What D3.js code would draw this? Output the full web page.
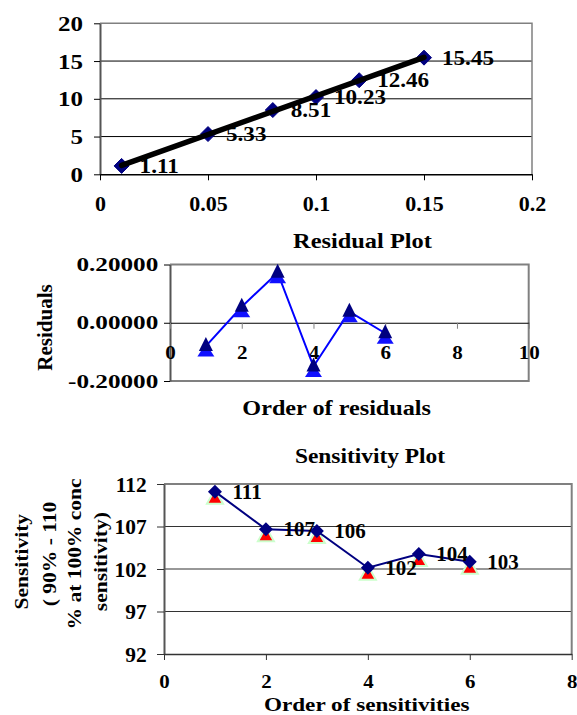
<!DOCTYPE html>
<html><head><meta charset="utf-8">
<script src="https://cdn.jsdelivr.net/npm/d3@7"></script>
<style>
body{margin:0;background:#fff}
text{font-family:"Liberation Serif","Times New Roman",serif;font-weight:bold;fill:#000}
</style>
</head><body>
<svg id="c" width="577" height="715"></svg>
<script>
// ---------- DATA ----------
const calX = [0.01, 0.05, 0.08, 0.10, 0.12, 0.15];
const calY = [1.11, 5.33, 8.51, 10.23, 12.46, 15.45];
const calLabels = ["1.11", "5.33", "8.51", "10.23", "12.46", "15.45"];
const trendX = [0.01, 0.15];
const trendY = [1.19, 15.49];
const calXTicks = [0, 0.05, 0.1, 0.15, 0.2];
const calXTickLabels = ["0", "0.05", "0.1", "0.15", "0.2"];
const calYTicks = [0, 5, 10, 15, 20];

const resOrder = [1, 2, 3, 4, 5, 6];
const residuals = [-0.080, 0.055, 0.172, -0.150, 0.038, -0.036];
const resXTicks = [0, 2, 4, 6, 8, 10];
const resYTicks = [-0.2, 0, 0.2];
const resYTickLabels = ["-0.20000", "0.00000", "0.20000"];

const sensOrder = [1, 2, 3, 4, 5, 6];
const sensitivity = [111.1, 106.67, 106.47, 102.15, 103.76, 102.86];
const sensLabels = ["111", "107", "106", "102", "104", "103"];
const sensXTicks = [0, 2, 4, 6, 8];
const sensYTicks = [92, 97, 102, 107, 112];
const sensYTitle = ["Sensitivity", "( 90% - 110", "% at 100% conc", "sensitivity)"];

// ---------- HELPERS ----------
const svg = d3.select("#c");
function stretch(sel, sx) {
  sel.each(function () {
    const L = this.getComputedTextLength();
    this.setAttribute("textLength", L * sx);
    this.setAttribute("lengthAdjust", "spacingAndGlyphs");
  });
}
const diamond = r => `M0,${-r}L${r},0L0,${r}L${-r},0Z`;
const tri = (w, h) => `M0,${-h / 2}L${w / 2},${h / 2}L${-w / 2},${h / 2}Z`;
const GRAY = "#808080";

// ---------- CHART 1: calibration ----------
(function () {
  const x = d3.scaleLinear().domain([0, 0.2]).range([100, 532]);
  const y = d3.scaleLinear().domain([0, 20]).range([174.3, 23.3]);
  const g = svg.append("g");
  g.selectAll("line.grid").data(calYTicks.filter(d => d > 0 && d < 20)).join("line")
    .attr("x1", x(0)).attr("x2", x(0.2)).attr("y1", d => y(d)).attr("y2", d => y(d))
    .attr("stroke", "#000").attr("stroke-width", 1);
  g.append("path").attr("d", `M${x(0)},${y(20)}H${x(0.2)}V${y(0)}`)
    .attr("fill", "none").attr("stroke", GRAY).attr("stroke-width", 1.5);
  const ya = g.append("g").attr("transform", `translate(${x(0)},0)`)
    .call(d3.axisLeft(y).tickValues(calYTicks).tickSize(6).tickSizeOuter(0).tickFormat(d3.format("d")));
  ya.select(".domain").attr("stroke", "#555").attr("stroke-width", 2);
  ya.selectAll(".tick line").attr("stroke", "#000");
  ya.selectAll("text").attr("x", -17).attr("dy", null).attr("dominant-baseline", "central")
    .attr("font-family", null).attr("font-size", null).style("font-size", "20px");
  const xa = g.append("g").attr("transform", `translate(0,${y(0)})`)
    .call(d3.axisBottom(x).tickValues(calXTicks).tickSize(6).tickSizeOuter(0)
      .tickFormat((d, i) => calXTickLabels[i]));
  xa.select(".domain").attr("stroke", "#000").attr("stroke-width", 1.5);
  xa.selectAll(".tick line").attr("stroke", "#000");
  xa.selectAll("text").attr("y", 204 - y(0)).attr("dy", null).attr("dominant-baseline", "central")
    .attr("font-family", null).attr("font-size", null).style("font-size", "20px");
  stretch(ya.selectAll("text"), 1.25);
  stretch(xa.selectAll("text"), 1.1);
  g.selectAll("path.pt").data(calX).join("path")
    .attr("d", diamond(7.5)).attr("transform", (d, i) => `translate(${x(d)},${y(calY[i])})`)
    .attr("fill", "#000080").attr("stroke", "#000080");
  g.append("path").attr("d", d3.line()(trendX.map((d, i) => [x(d), y(trendY[i])])))
    .attr("stroke", "#000").attr("stroke-width", 5.5).attr("stroke-linecap", "round").attr("fill", "none");
  const lb = g.selectAll("text.lbl").data(calX).join("text")
    .attr("x", d => x(d) + 18).attr("y", (d, i) => y(calY[i]))
    .attr("dominant-baseline", "central").style("font-size", "21px").text((d, i) => calLabels[i]);
  stretch(lb, 1.1);
})();

// ---------- CHART 2: residuals ----------
(function () {
  const x = d3.scaleLinear().domain([0, 10]).range([170, 528.7]);
  const y = d3.scaleLinear().domain([-0.2, 0.2]).range([381, 264.5]);
  const g = svg.append("g");
  g.append("path").attr("d", `M${x(0)},${y(0.2)}H${x(10)}V${y(-0.2)}H${x(0)}`)
    .attr("fill", "none").attr("stroke", GRAY).attr("stroke-width", 2);
  const t = g.append("text").attr("x", 362.5).attr("y", 247.7).attr("text-anchor", "middle")
    .style("font-size", "21px").text("Residual Plot");
  stretch(t, 1.16);
  const ya = g.append("g").attr("transform", `translate(${x(0)},0)`)
    .call(d3.axisLeft(y).tickValues(resYTicks).tickSize(6).tickSizeOuter(0)
      .tickFormat((d, i) => resYTickLabels[i]));
  ya.select(".domain").attr("stroke", "#555").attr("stroke-width", 2);
  ya.selectAll(".tick line").attr("stroke", "#000");
  ya.selectAll("text").attr("x", 158.3 - x(0)).attr("dy", null).attr("dominant-baseline", "central")
    .attr("font-family", null).attr("font-size", null).style("font-size", "18px");
  stretch(ya.selectAll("text"), 1.4);
  const xa = g.append("g").attr("transform", `translate(0,${y(0)})`)
    .call(d3.axisBottom(x).tickValues(resXTicks).tickSize(6).tickSizeOuter(0).tickFormat(d3.format("d")));
  xa.select(".domain").attr("stroke", "#000").attr("stroke-width", 1.2);
  xa.selectAll(".tick line").attr("stroke", GRAY);
  xa.selectAll("text").attr("y", 352.7 - y(0)).attr("dy", null).attr("dominant-baseline", "central")
    .attr("font-family", null).attr("font-size", null).style("font-size", "18px");
  stretch(xa.selectAll("text"), 1.17);
  const xt = g.append("text").attr("x", 336.7).attr("y", 415).attr("text-anchor", "middle")
    .style("font-size", "20px").text("Order of residuals");
  stretch(xt, 1.21);
  g.append("text").attr("transform", "translate(45,327.5) rotate(-90)")
    .attr("text-anchor", "middle").attr("dominant-baseline", "central")
    .style("font-size", "21px").text("Residuals");
  g.append("path").attr("d", d3.line()(resOrder.map((d, i) => [x(d), y(residuals[i])])))
    .attr("stroke", "#0000FF").attr("stroke-width", 2).attr("fill", "none");
  g.selectAll("path.tb").data(resOrder).join("path")
    .attr("d", tri(17, 13)).attr("transform", (d, i) => `translate(${x(d)},${y(residuals[i]) + 4})`)
    .attr("fill", "#1010FF");
  g.selectAll("path.tn").data(resOrder).join("path")
    .attr("d", tri(14, 14)).attr("transform", (d, i) => `translate(${x(d)},${y(residuals[i]) - 2})`)
    .attr("fill", "#000080");
})();

// ---------- CHART 3: sensitivity ----------
(function () {
  const x = d3.scaleLinear().domain([0, 8]).range([164, 571.7]);
  const y = d3.scaleLinear().domain([92, 112]).range([654, 484]);
  const g = svg.append("g");
  g.selectAll("line.grid").data(sensYTicks.filter(d => d > 92 && d < 112)).join("line")
    .attr("x1", x(0)).attr("x2", x(8)).attr("y1", d => y(d)).attr("y2", d => y(d))
    .attr("stroke", "#333").attr("stroke-width", 1.2);
  g.append("path").attr("d", `M${x(0)},${y(112)}H${x(8)}V${y(92)}`)
    .attr("fill", "none").attr("stroke", GRAY).attr("stroke-width", 2);
  const t = g.append("text").attr("x", 370).attr("y", 462.7).attr("text-anchor", "middle")
    .style("font-size", "20px").text("Sensitivity Plot");
  stretch(t, 1.17);
  const ya = g.append("g").attr("transform", `translate(${x(0)},0)`)
    .call(d3.axisLeft(y).tickValues(sensYTicks).tickSize(7).tickSizeOuter(0).tickFormat(d3.format("d")));
  ya.select(".domain").attr("stroke", "#555").attr("stroke-width", 2);
  ya.selectAll(".tick line").attr("stroke", "#333");
  ya.selectAll("text").attr("x", 146.7 - x(0)).attr("dy", null).attr("dominant-baseline", "central")
    .attr("font-family", null).attr("font-size", null).style("font-size", "20px");
  stretch(ya.selectAll("text"), 1.07);
  const xa = g.append("g").attr("transform", `translate(0,${y(92)})`)
    .call(d3.axisBottom(x).tickValues(sensXTicks).tickSize(6).tickSizeOuter(0).tickFormat(d3.format("d")));
  xa.select(".domain").attr("stroke", "#333").attr("stroke-width", 1.5);
  xa.selectAll(".tick line").attr("stroke", "#333");
  xa.selectAll("text").attr("y", 681.7 - y(92)).attr("dy", null).attr("dominant-baseline", "central")
    .attr("font-family", null).attr("font-size", null).style("font-size", "19px");
  stretch(xa.selectAll("text"), 1.1);
  const xt = g.append("text").attr("x", 366.7).attr("y", 710.5).attr("text-anchor", "middle")
    .style("font-size", "19px").text("Order of sensitivities");
  stretch(xt, 1.22);
  const yCx = [21, 49, 74, 100], yCy = [561.7, 554, 554, 561.7];
  const yt = g.selectAll("text.yt").data(sensYTitle).join("text")
    .attr("transform", (d, i) => `translate(${yCx[i]},${yCy[i]}) rotate(-90)`)
    .attr("text-anchor", "middle").attr("dominant-baseline", "central")
    .style("font-size", "19px").text(d => d);
  stretch(yt, 1.13);
  g.selectAll("path.rt").data(sensOrder).join("path")
    .attr("d", tri(16, 14)).attr("transform", (d, i) => `translate(${x(d)},${y(sensitivity[i]) + 5})`)
    .attr("fill", "#FF0000").attr("stroke", "#CCFFCC").attr("stroke-width", 2);
  g.append("path").attr("d", d3.line()(sensOrder.map((d, i) => [x(d), y(sensitivity[i])])))
    .attr("stroke", "#000080").attr("stroke-width", 2).attr("fill", "none");
  g.selectAll("path.dm").data(sensOrder).join("path")
    .attr("d", diamond(7)).attr("transform", (d, i) => `translate(${x(d)},${y(sensitivity[i])})`)
    .attr("fill", "#000080");
  const lb = g.selectAll("text.lbl").data(sensOrder).join("text")
    .attr("x", d => x(d) + 17.5).attr("y", (d, i) => y(sensitivity[i]))
    .attr("dominant-baseline", "central").style("font-size", "20px").text((d, i) => sensLabels[i]);
  stretch(lb, 1.05);
})();
</script>
</body></html>
